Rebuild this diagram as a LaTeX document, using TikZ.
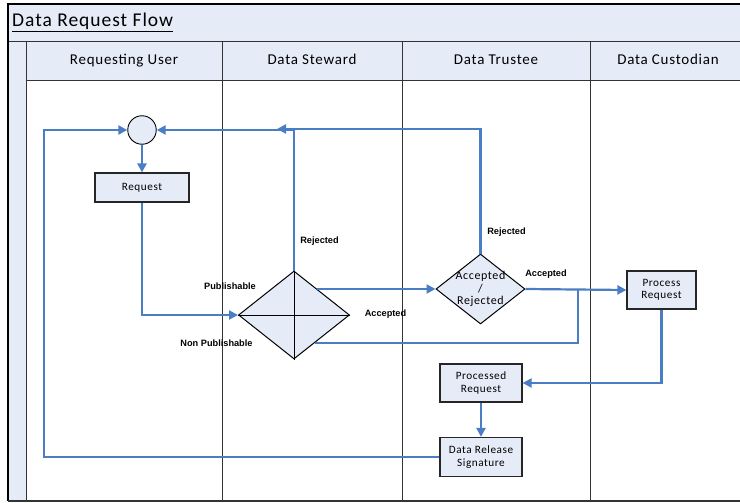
\documentclass[tikz,border=0pt]{standalone}
\usepackage{fontspec}
\setmainfont[LetterSpace=5]{Carlito}
\newfontfamily\lblfont{Liberation Sans}
\usetikzlibrary{shapes.geometric,arrows.meta,calc}
\definecolor{lanefill}{HTML}{E6ECF7}
\definecolor{flowblue}{HTML}{4A7EC4}
\definecolor{frameline}{HTML}{333333}
\tikzset{
  flow/.style={draw=flowblue,line width=2.2pt,-{Triangle[length=9pt,width=9pt]}},
  flowplain/.style={draw=flowblue,line width=2.2pt},
  procbox/.style={draw=black!85,line width=1.2pt,fill=lanefill,rectangle,align=center,font=\fontsize{11.2}{12.5}\selectfont,inner sep=0pt},
  decision/.style={draw=black,line width=1pt,fill=lanefill,diamond,inner sep=0pt,align=center},
  lbl/.style={font=\lblfont\bfseries\fontsize{9.2}{10}\selectfont,inner sep=0pt},
  lanehead/.style={font=\fontsize{15}{17}\selectfont,inner sep=0pt,anchor=base},
}
\begin{document}
\begin{tikzpicture}[x=1pt,y=-1pt]
\useasboundingbox (0,0) rectangle (740,503);
% title band and header
\fill[lanefill] (8,4) rectangle (745,80);
\fill[lanefill] (8,41) rectangle (26,501);
\draw[frameline,line width=0.8pt] (8,41) -- (745,41);
\draw[frameline,line width=0.6pt] (26,80) -- (745,80);
\draw[frameline,line width=0.8pt] (26,41) -- (26,501);
\draw[black,line width=1.4pt] (8,501) -- (8,4) -- (745,4);
\draw[frameline,line width=1.2pt] (8,501) -- (745,501);
% lane dividers
\draw[frameline,line width=0.7pt] (222,41) -- (222,501);
\draw[frameline,line width=0.7pt] (402,41) -- (402,501);
\draw[frameline,line width=0.7pt] (590,41) -- (590,501);
% titles
\node[anchor=west,inner sep=0pt,font=\fontsize{19.5}{21}\selectfont] (title) at (12,22) {\underline{Data Request Flow}};
\node[lanehead] (h1) at (124,65) {Requesting User};
\node[lanehead] (h2) at (312,65) {Data Steward};
\node[lanehead] (h3) at (496,65) {Data Trustee};
\node[lanehead] (h4) at (668,65) {Data Custodian};
% shapes
\node[draw=black,line width=0.9pt,fill=lanefill,circle,minimum size=28.5pt,inner sep=0pt] (start) at (142,130) {};
\node[procbox,minimum width=94pt,minimum height=29pt] (req) at (142,187.5) {Request};
\node[decision,minimum width=111pt,minimum height=88pt] (sd) at (294,315) {};
\draw[black,line width=0.9pt] (sd.north) -- (sd.south) (sd.west) -- (sd.east);
\node[decision,minimum width=89pt,minimum height=70pt] (td) at (480.5,289) {};
\node[align=center,inner sep=0pt,font=\fontsize{12}{12.5}\selectfont] (tdtext) at (480.5,289) {Accepted\\/\\Rejected};
\node[procbox,minimum width=69pt,minimum height=38pt] (proc) at (661.5,290) {Process\\Request};
\node[procbox,minimum width=82pt,minimum height=38pt] (procd) at (481,383) {Processed\\Request};
\node[procbox,minimum width=82pt,minimum height=39pt] (drs) at (481,457) {Data Release\\Signature};
% helper coordinates
\coordinate (tdrej) at (277,129);
\coordinate (sdup) at (316.5,289);
\coordinate (sdlow) at (315,343);
\coordinate (join) at (578,289.5);
\coordinate (loopx) at (44,0);
% connectors
\draw[flow] (start) -- (req);
\draw[flow] (req.south) |- (sd.west);
\draw[flow] (sd.north) |- (start.east);
\draw[flow] (td.north) |- (tdrej);
\draw[flow] (sdup) -- (td.west);
\draw[flowplain] (sdlow) -| (join);
\draw[flow] (td.east) -- (proc.west);
\draw[flow] (proc.south) |- (procd.east);
\draw[flow] (procd) -- (drs);
\draw[flow] (drs.west) -| (loopx |- drs.west) -- (loopx |- start.west) -- (start.west);
% labels
\node[lbl] (lpub) at (230,286) {Publishable};
\node[lbl] (lnon) at (216.5,343) {Non Publishable};
\node[lbl] (lrej1) at (319.5,241) {Rejected};
\node[lbl] (lacc1) at (385.5,314) {Accepted};
\node[lbl] (lrej2) at (506.5,232) {Rejected};
\node[lbl] (lacc2) at (546,274.5) {Accepted};
\end{tikzpicture}
\end{document}
